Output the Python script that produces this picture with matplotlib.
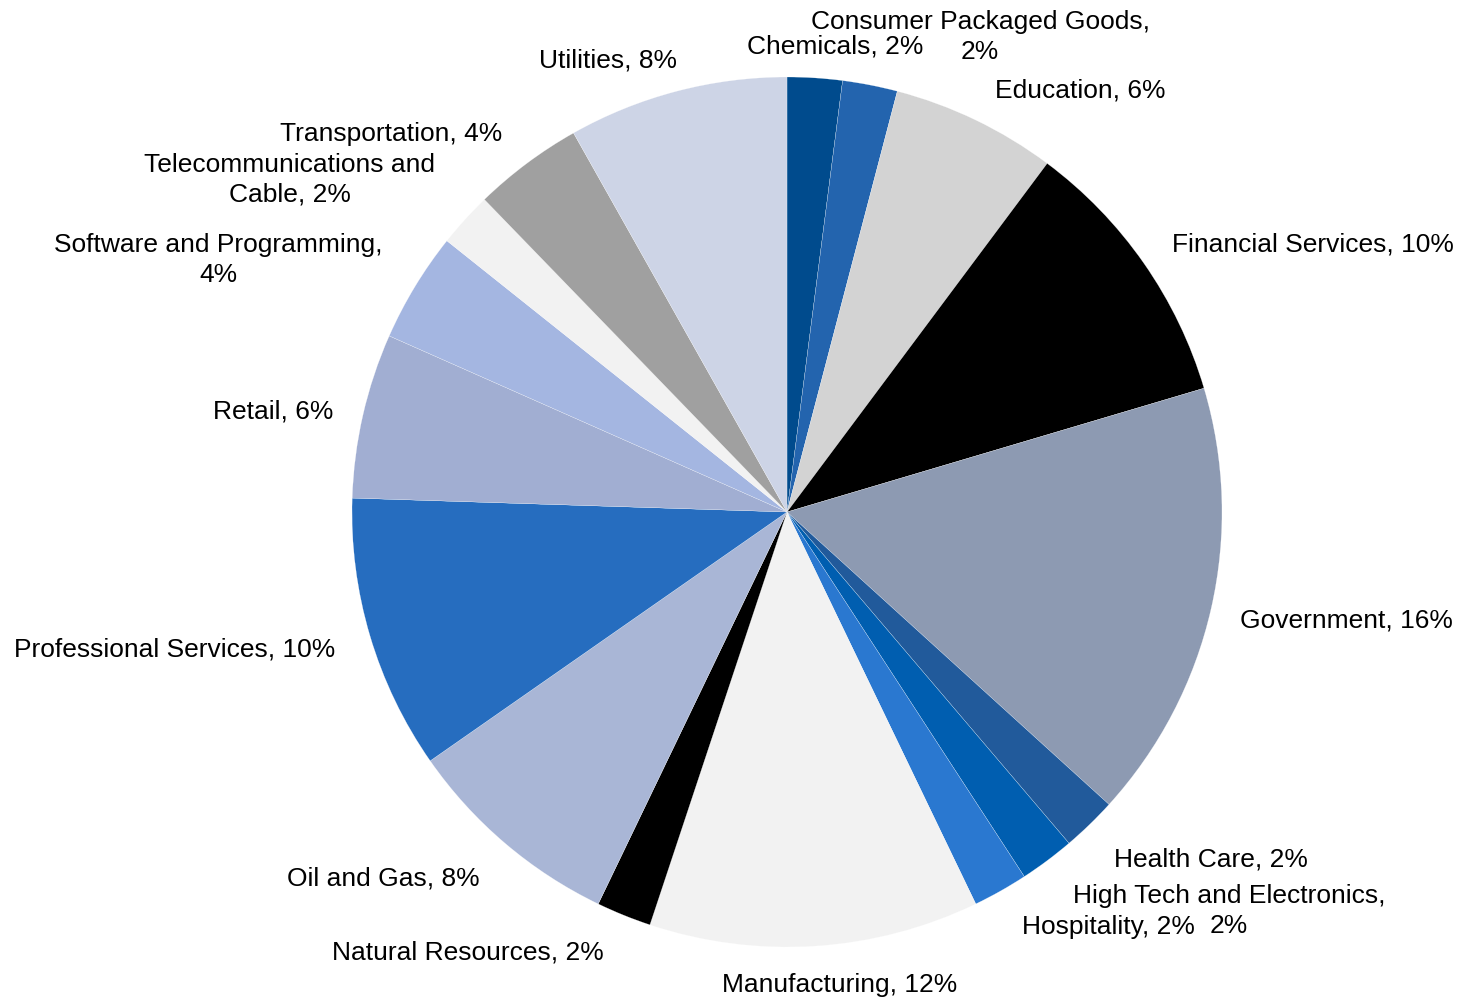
import matplotlib
matplotlib.use('Agg')
import matplotlib.pyplot as plt

plt.rcParams['font.family'] = ['Liberation Sans', 'DejaVu Sans']

# categories (clockwise from 12 o'clock) and project counts
industrias = ['Chemicals', 'Consumer Packaged Goods', 'Education', 'Financial Services',
              'Government', 'Health Care', 'High Tech and Electronics', 'Hospitality',
              'Manufacturing', 'Natural Resources', 'Oil and Gas', 'Professional Services',
              'Retail', 'Software and Programming', 'Telecommunications and Cable',
              'Transportation', 'Utilities']
contagens = [1, 1, 3, 5, 8, 1, 1, 1, 6, 1, 4, 5, 3, 2, 1, 2, 4]

# how labels are wrapped in the reference
quebras = {'Consumer Packaged Goods': 'Consumer Packaged Goods,\n',
           'High Tech and Electronics': 'High Tech and Electronics,\n',
           'Software and Programming': 'Software and Programming,\n',
           'Telecommunications and Cable': 'Telecommunications and\nCable, '}

CORES = ['#004b8d', '#2364ae', '#d3d3d3', '#000000', '#8d9ab2', '#215a9b', '#005eb0',
         '#2a78d0', '#f2f2f2', '#000000', '#a9b6d6', '#266dbf', '#a1aed2', '#a4b6e1',
         '#f2f2f2', '#a0a0a0', '#cdd4e6']

# label anchors in units of pie radius
POS_ROTULOS = [(0.110, 1.071), (0.444, 1.092), (0.674, 0.970), (1.209, 0.616),
               (1.287, -0.249), (0.975, -0.798), (1.016, -0.918), (0.738, -0.954),
               (0.122, -1.088), (-0.733, -1.012), (-0.929, -0.842), (-1.407, -0.315),
               (-1.182, 0.232), (-1.308, 0.579), (-1.143, 0.763), (-0.910, 0.869),
               (-0.411, 1.039)]

W, H = 1460, 1000
CX, CY, R = 787, 512, 435

fig = plt.figure(figsize=(W / 100, H / 100), dpi=100)
ax = fig.add_axes([0, 0, 1, 1])

ax.pie(contagens, colors=CORES, startangle=90, counterclock=False,
       wedgeprops=dict(edgecolor='white', linewidth=0.15))

total = sum(contagens)
for nome, c, (x, y) in zip(industrias, contagens, POS_ROTULOS):
    pct = round(c / total * 100)
    prefixo = quebras.get(nome, nome + ', ')
    ax.text(x, y, f'{prefixo}{pct}%', ha='center', va='center',
            multialignment='center', fontsize=19, color='black', linespacing=1.3)

ax.set_xlim(-CX / R, (W - CX) / R)
ax.set_ylim(-(H - CY) / R, CY / R)
ax.axis('off')

fig.savefig('out.png', dpi=100, facecolor='white')
